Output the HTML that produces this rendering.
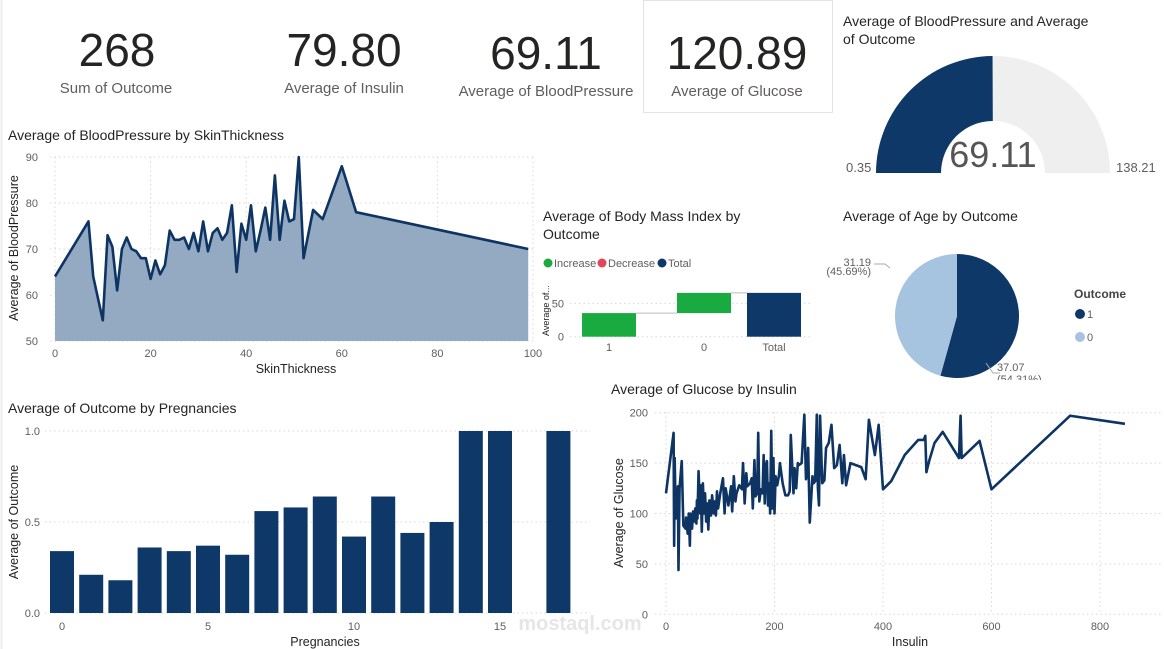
<!DOCTYPE html>
<html><head><meta charset="utf-8"><style>
html,body{margin:0;padding:0;background:#fff;}
svg{display:block;font-family:"Liberation Sans",sans-serif;}
.t{font-size:14px;fill:#252423;}
.tk{font-size:11px;fill:#605e5c;}
.ax{font-size:12.5px;fill:#252423;}
.kv{font-size:46px;fill:#252423;}
.kl{font-size:15px;fill:#605e5c;}
.g{stroke:#d8d8d8;stroke-dasharray:1.5 3;stroke-width:1;}
</style></head><body>
<svg id="s" width="1164" height="649" viewBox="0 0 1164 649">
<rect x="0" y="0" width="1164" height="649" fill="#fff"/>
<line x1="1.5" y1="0" x2="1.5" y2="649" stroke="#eee" stroke-width="2"/>
<g>
<text class="kv" x="117" y="66" text-anchor="middle">268</text>
<text class="kl" x="116" y="93" text-anchor="middle">Sum of Outcome</text></g>
<g>
<text class="kv" x="344" y="66" text-anchor="middle">79.80</text>
<text class="kl" x="344" y="93" text-anchor="middle">Average of Insulin</text></g>
<g>
<text class="kv" x="546" y="69" text-anchor="middle">69.11</text>
<text class="kl" x="546" y="96" text-anchor="middle">Average of BloodPressure</text></g>
<g>
<rect x="643.5" y="0.5" width="189" height="112" fill="none" stroke="#e3e3e3"/>
<text class="kv" x="737" y="69" text-anchor="middle">120.89</text>
<text class="kl" x="737" y="96" text-anchor="middle">Average of Glucose</text></g>

<g>
<text class="t" x="843" y="26">Average of BloodPressure and Average</text>
<text class="t" x="843" y="44">of Outcome</text>
<g id="gauge"></g>
<text x="993" y="167" text-anchor="middle" font-size="36" fill="#555">69.11</text>
<text class="tk" x="846" y="172" style="font-size:13px">0.35</text>
<text class="tk" x="1116" y="172" style="font-size:13px">138.21</text>
</g>

<g>
<text class="t" x="8" y="140">Average of BloodPressure by SkinThickness</text>
<g id="area"></g>
<text class="ax" x="296" y="373" text-anchor="middle">SkinThickness</text>
<text class="ax" transform="translate(18,248) rotate(-90)" text-anchor="middle">Average of BloodPressure</text>
</g>

<g>
<text class="t" x="543" y="221">Average of Body Mass Index by</text>
<text class="t" x="543" y="239">Outcome</text>
<circle cx="548" cy="263" r="4.5" fill="#1aab40"/><text class="tk" x="554" y="267">Increase</text>
<circle cx="602" cy="263" r="4.5" fill="#e0475a"/><text class="tk" x="608" y="267">Decrease</text>
<circle cx="662" cy="263" r="4.5" fill="#0e3868"/><text class="tk" x="668" y="267">Total</text>
<text transform="translate(549,336) rotate(-90)" style="font-size:9px" fill="#252423">Average of...</text>
<g id="wf"></g>
</g>

<g>
<text class="t" x="843" y="221">Average of Age by Outcome</text>
<g id="pie"></g>
<polyline points="874,264 885,264 890,268" fill="none" stroke="#aaa"/>
<text class="tk" x="871" y="266" text-anchor="end">31.19</text>
<text class="tk" x="871" y="275" text-anchor="end">(45.69%)</text>
<polyline points="986,363 993,373 1000,373" fill="none" stroke="#aaa"/>
<text class="tk" x="997" y="371">37.07</text>
<text class="tk" x="997" y="383">(54.31%)</text>
<rect x="990" y="380" width="60" height="10" fill="#fff"/>
<text x="1074" y="298" font-size="12" font-weight="bold" fill="#444">Outcome</text>
<circle cx="1080" cy="314" r="5" fill="#0e3868"/><text class="tk" x="1087" y="318">1</text>
<circle cx="1080" cy="337" r="5" fill="#a6c3e0"/><text class="tk" x="1087" y="341">0</text>
</g>

<g>
<text class="t" x="8" y="413">Average of Outcome by Pregnancies</text>
<g id="bars"></g>
<text class="ax" x="325" y="646" text-anchor="middle">Pregnancies</text>
<text class="ax" transform="translate(18,522) rotate(-90)" text-anchor="middle">Average of Outcome</text>
</g>

<g>
<text class="t" x="611" y="394">Average of Glucose by Insulin</text>
<g id="line"></g>
<text class="ax" x="910" y="646" text-anchor="middle">Insulin</text>
<text class="ax" transform="translate(623,513) rotate(-90)" text-anchor="middle">Average of Glucose</text>
</g>
<text x="580" y="630" text-anchor="middle" font-size="20" font-weight="bold" fill="#e6e6e6">mostaql.com</text>
</svg>
<script>
const NS="http://www.w3.org/2000/svg";
function mk(p,t,a){const e=document.createElementNS(NS,t);for(const k in a)e.setAttribute(k,a[k]);p.appendChild(e);return e;}
// ---- data
const skinX=[0,7,8,10,11,12,13,14,15,16,17,18,19,20,21,22,23,24,25,26,27,28,29,30,31,32,33,34,35,36,37,38,39,40,41,42,43,44,45,46,47,48,49,50,51,52,54,56,60,63,99];
const bpY=[64,76,64,54.5,73,70.5,61,70,72.5,70,69.5,68,68,63.5,67.5,64.5,66.5,74,72,72,72.5,70,73.5,69.5,76,69.5,73.5,74.5,72,73.5,79.5,65,75.5,72,79.5,69.5,74,79,72,86,72,80.5,76,76.5,90,68,78.5,76.5,88,78,70];
const areaYTicks=[50,60,70,80,90];
const areaXTicks=[0,20,40,60,80,100];
const pregCats=[0,1,2,3,4,5,6,7,8,9,10,11,12,13,14,15,17];
const pregVals=[0.34,0.21,0.18,0.36,0.34,0.37,0.32,0.56,0.58,0.64,0.42,0.64,0.44,0.5,1,1,1];
const pregYTicks=[0,0.5,1];
const pregXTicks=[0,5,10,15];
const insX=[0,14,15,16,18,22,23,25,29,32,36,37,40,42,44,45,48,50,52,54,56,57,58,60,63,64,66,68,70,72,74,76,78,80,83,85,88,90,92,94,96,100,105,108,110,115,120,122,125,128,130,135,140,142,145,148,150,155,158,160,163,165,168,170,172,175,178,180,182,184,186,188,190,192,194,196,198,200,202,205,208,210,215,220,225,228,230,235,237,240,243,245,250,255,258,260,262,265,270,272,275,278,280,282,284,288,292,295,300,305,310,315,320,325,328,332,340,360,368,374,385,392,400,415,440,465,475,478,480,485,495,510,540,543,545,578,600,745,846];
const gluY=[120,180,68,155,95,127,44,125,152,88,85,96,80,100,68,100,85,102,92,105,90,113,95,142,100,128,82,130,100,120,92,110,84,113,98,118,100,112,98,122,105,120,135,100,125,108,127,102,137,112,120,128,124,150,110,140,127,130,135,105,153,117,120,180,112,124,120,158,110,147,152,108,130,100,182,105,155,100,137,128,137,150,130,118,118,122,178,120,145,125,150,148,150,198,134,140,165,91,137,130,132,198,125,108,197,130,133,165,170,188,145,148,168,130,158,128,150,146,134,193,158,188,124,132,158,173,173,177,141,152,170,181,155,197,155,172,124,197,189];
const glYTicks=[0,50,100,150,200];
const glXTicks=[0,200,400,600,800];
const wfCats=["1","0","Total"];
const wfVals=[35.4,30.3];
const wfTicks=[0,50];
const ageCats=["1","0"];
const ageVals=[37.07,31.19];
const gaugeMin=0.35, gaugeMax=138.21, gaugeVal=69.11;

// ---- area chart
(function(){
const g=document.getElementById('area');
const x=v=>55+v*4.78, y=v=>341-(v-50)*4.6;
areaYTicks.forEach(t=>{const l=mk(g,'line',{x1:50,x2:535,y1:y(t),y2:y(t),class:'g'});
const tx=mk(g,'text',{x:38,y:y(t)+4,'text-anchor':'end',class:'tk'});tx.textContent=t;});
areaXTicks.forEach(t=>{const l=mk(g,'line',{x1:x(t),x2:x(t),y1:157,y2:341,class:'g'});
const tx=mk(g,'text',{x:x(t),y:357,'text-anchor':'middle',class:'tk'});tx.textContent=t;});
let pts=skinX.map((s,i)=>x(s)+','+y(bpY[i])).join(' ');
const a=mk(g,'polygon',{points:x(skinX[0])+','+y(50)+' '+pts+' '+x(skinX[skinX.length-1])+','+y(50),fill:'#94a9c2'});

const p=mk(g,'polyline',{points:pts,fill:'none',stroke:'#0d3463','stroke-width':2.6,'stroke-linejoin':'round'});

})();
// ---- bars
(function(){
const g=document.getElementById('bars');
const x=v=>62+v*29.2, y=v=>613-v*182;
pregYTicks.forEach(t=>{const l=mk(g,'line',{x1:45,x2:590,y1:y(t),y2:y(t),class:'g'});
const tx=mk(g,'text',{x:40,y:y(t)+4,'text-anchor':'end',class:'tk'});tx.textContent=t.toFixed(1);});
pregXTicks.forEach(t=>{const tx=mk(g,'text',{x:x(t),y:630,'text-anchor':'middle',class:'tk'});tx.textContent=t;});
pregCats.forEach((c,i)=>{const r=mk(g,'rect',{x:x(c)-12,y:y(pregVals[i]),width:24,height:y(0)-y(pregVals[i]),fill:'#0e3868'});
});
})();
// ---- line
(function(){
const g=document.getElementById('line');
const x=v=>666+v*0.5425, y=v=>614.3-v*1.008;
glYTicks.forEach(t=>{const l=mk(g,'line',{x1:655,x2:1162,y1:y(t),y2:y(t),class:'g'});
const tx=mk(g,'text',{x:648,y:y(t)+4,'text-anchor':'end',class:'tk'});tx.textContent=t;});
glXTicks.forEach(t=>{const l=mk(g,'line',{x1:x(t),x2:x(t),y1:412,y2:614,class:'g'});
const tx=mk(g,'text',{x:x(t),y:630,'text-anchor':'middle',class:'tk'});tx.textContent=t;});
const p=mk(g,'polyline',{points:insX.map((s,i)=>x(s)+','+y(gluY[i])).join(' '),fill:'none',stroke:'#0d3463','stroke-width':2.6,'stroke-linejoin':'round'});

})();
// ---- waterfall
(function(){
const g=document.getElementById('wf');
const y=v=>336.7-v*0.667;const cx=[609,704,774];
wfTicks.forEach(t=>{const l=mk(g,'line',{x1:570,x2:810,y1:y(t),y2:y(t),class:'g'});
const tx=mk(g,'text',{x:564,y:y(t)+4,'text-anchor':'end',class:'tk'});tx.textContent=t;});
let cum=0;const tot=wfVals.reduce((a,b)=>a+b,0);
wfCats.forEach((c,i)=>{let lo,hi,col;if(i<wfVals.length){lo=cum;hi=cum+wfVals[i];cum=hi;col='#1aab40';}else{lo=0;hi=tot;col='#0e3868';}
const r=mk(g,'rect',{x:cx[i]-27,y:y(hi),width:54,height:y(lo)-y(hi),fill:col});
if(i<wfCats.length-1){const l=mk(g,'line',{x1:cx[i]+27,x2:cx[i+1]-27,y1:y(hi),y2:y(hi),stroke:'#bbb'});}
const tx=mk(g,'text',{x:cx[i],y:351,'text-anchor':'middle',class:'tk'});tx.textContent=c;});
})();
// ---- pie
(function(){
const g=document.getElementById('pie');const cx=957,cy=316,r=62;const cols=['#0e3868','#a6c3e0'];
const tot=ageVals.reduce((a,b)=>a+b,0);let a0=-Math.PI/2;
ageVals.forEach((v,i)=>{const a1=a0+v/tot*2*Math.PI;const large=(a1-a0)>Math.PI?1:0;
const d=`M${cx},${cy} L${cx+r*Math.cos(a0)},${cy+r*Math.sin(a0)} A${r},${r} 0 ${large} 1 ${cx+r*Math.cos(a1)},${cy+r*Math.sin(a1)} Z`;
const p=mk(g,'path',{d:d,fill:cols[i]});a0=a1;});
})();
// ---- gauge
(function(){
const g=document.getElementById('gauge');const cx=993,cy=173,R=117,ri=52;
function arc(f0,f1){const a0=Math.PI*(1+f0),a1=Math.PI*(1+f1);
return `M${cx+R*Math.cos(a0)},${cy+R*Math.sin(a0)} A${R},${R} 0 0 1 ${cx+R*Math.cos(a1)},${cy+R*Math.sin(a1)} L${cx+ri*Math.cos(a1)},${cy+ri*Math.sin(a1)} A${ri},${ri} 0 0 0 ${cx+ri*Math.cos(a0)},${cy+ri*Math.sin(a0)} Z`;}
const f=(gaugeVal-gaugeMin)/(gaugeMax-gaugeMin);
const b=mk(g,'path',{d:arc(0,1),fill:'#efefef'});
const v=mk(g,'path',{d:arc(0,f),fill:'#0e3868'});
})();
</script>
</body></html>
